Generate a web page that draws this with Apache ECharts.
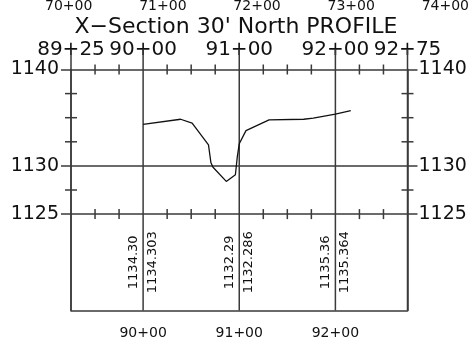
<!DOCTYPE html>
<html>
<head>
<meta charset="utf-8">
<script src="https://cdn.jsdelivr.net/npm/echarts@6/dist/echarts.min.js"></script>
<style>html,body{margin:0;padding:0;background:#fff}#c{width:472px;height:342px}</style>
</head>
<body>
<div id="c"></div>
<script>
// ---- data ----
const profileStations = [9000, 9039, 9051, 9068, 9070.5, 9072.5, 9086.5, 9096, 9098, 9100, 9107, 9131, 9167, 9177, 9200, 9216];
const profileElev     = [1134.30, 1134.84, 1134.43, 1132.18, 1130.35, 1129.88, 1128.39, 1129.08, 1130.97, 1132.29, 1133.66, 1134.77, 1134.84, 1134.95, 1135.36, 1135.73];
const labelStations   = [9000, 9100, 9200];
const existingElev    = [1134.30, 1132.29, 1135.36];
const proposedElev    = [1134.303, 1132.286, 1135.364];
const topStations     = [8925, 9000, 9100, 9200, 9275];
const bottomStations  = [9000, 9100, 9200];
const otherStations   = [7000, 7100, 7200, 7300, 7400];
const elevLabels      = [1125, 1130, 1140];
const gridElevs       = [1125, 1130];
const vLineStations   = [8925, 9000, 9100, 9200, 9275];
const minorStations   = [8950, 8975, 9025, 9050, 9075, 9125, 9150, 9175, 9225, 9250];
const minorStationRows = [1140, 1125];
const minorElevs      = [1127.5, 1132.5, 1135, 1137.5];
const minorElevCols   = [8925, 9275];
const titleText = "X\u2212Section 30' North PROFILE";

const XMIN = 8925, XMAX = 9275, YMIN = 1115, YMAX = 1140;
const FONT = "'DejaVu Sans', sans-serif";
const LC = '#3a3a3a';
const TC = '#111';
function sta(v){ v = Math.round(v); const a = Math.floor(v/100), b = v%100; return a + '+' + (b<10?'0':'') + b; }
function plain(v){ return String(v); }

const xTickData = [];
minorStationRows.forEach(r => minorStations.forEach(s => xTickData.push([s, r])));
const yTickData = [];
minorElevCols.forEach(c => minorElevs.forEach(e => yTickData.push([c, e])));

const chart = echarts.init(document.getElementById('c'), null, {renderer:'canvas'});
chart.setOption({
  animation: false,
  backgroundColor: '#fff',
  title: { text: titleText, left: 'center', top: 11,
    textStyle: { fontFamily: FONT, fontSize: 22, fontWeight: 'normal', color: TC } },
  grid: [
    { left: 71, right: 64.5, top: 69.5, bottom: 31.5 },
    { left: 0, right: 0, top: 12, height: 1 }
  ],
  xAxis: [
    { type: 'value', gridIndex: 0, position: 'bottom', min: XMIN, max: XMAX,
      axisLine: { show: true, lineStyle: { color: LC, width: 1.5 } },
      axisTick: { show: false }, splitLine: { show: false },
      axisLabel: { customValues: bottomStations, formatter: sta, margin: 16,
        fontFamily: FONT, fontSize: 14, color: TC } },
    { type: 'value', gridIndex: 0, position: 'top', min: XMIN, max: XMAX,
      axisLine: { show: true, lineStyle: { color: LC, width: 1.5 } },
      axisTick: { show: false }, splitLine: { show: false },
      axisLabel: { customValues: topStations, formatter: sta, margin: 10,
        fontFamily: FONT, fontSize: 20, color: TC, showMinLabel: true, showMaxLabel: true } },
    { type: 'value', gridIndex: 1, position: 'top', min: 6927, max: 7419,
      axisLine: { show: false }, axisTick: { show: false }, splitLine: { show: false },
      axisLabel: { customValues: otherStations, formatter: sta, margin: 0,
        fontFamily: FONT, fontSize: 14, color: TC } }
  ],
  yAxis: [
    { type: 'value', gridIndex: 0, position: 'left', min: YMIN, max: YMAX,
      axisLine: { show: true, lineStyle: { color: LC, width: 1.5 } },
      axisTick: { show: true, customValues: elevLabels, length: 10, lineStyle: { color: LC, width: 1.5 } },
      splitLine: { show: false },
      axisLabel: { customValues: elevLabels, formatter: plain, margin: 12, fontFamily: FONT, fontSize: 19, color: TC } },
    { type: 'value', gridIndex: 0, position: 'right', min: YMIN, max: YMAX,
      axisLine: { show: true, lineStyle: { color: LC, width: 1.5 } },
      axisTick: { show: true, customValues: elevLabels, length: 10, lineStyle: { color: LC, width: 1.5 } },
      splitLine: { show: false },
      axisLabel: { customValues: elevLabels, formatter: plain, margin: 11, fontFamily: FONT, fontSize: 19, color: TC } },
    { type: 'value', gridIndex: 1, show: false, min: 0, max: 1 }
  ],
  series: [
    { type: 'custom', name: 'vlines', xAxisIndex: 0, yAxisIndex: 0, clip: false, silent: true, z: 1,
      data: vLineStations.map(s => [s, YMIN]),
      renderItem: (p, api) => {
        const b = api.coord([api.value(0), YMIN]);
        const t = api.coord([api.value(0), 1142.1]);
        return { type: 'line', shape: { x1: b[0], y1: b[1], x2: t[0], y2: t[1] },
          style: { stroke: LC, lineWidth: 1.5 } };
      } },
    { type: 'custom', name: 'hlines', xAxisIndex: 0, yAxisIndex: 0, clip: false, silent: true,
      data: gridElevs.map(e => [XMIN, e]),
      renderItem: (p, api) => {
        const a = api.coord([XMIN, api.value(1)]);
        const b = api.coord([XMAX, api.value(1)]);
        return { type: 'line', shape: { x1: a[0], y1: a[1], x2: b[0], y2: b[1] },
          style: { stroke: LC, lineWidth: 1.5 } };
      } },
    { type: 'custom', name: 'xticks', xAxisIndex: 0, yAxisIndex: 0, clip: false, silent: true,
      data: xTickData,
      renderItem: (p, api) => {
        const c = api.coord([api.value(0), api.value(1)]);
        return { type: 'line', shape: { x1: c[0], y1: c[1]-5, x2: c[0], y2: c[1]+5 },
          style: { stroke: LC, lineWidth: 1.5 } };
      } },
    { type: 'custom', name: 'yticks', xAxisIndex: 0, yAxisIndex: 0, clip: false, silent: true,
      data: yTickData,
      renderItem: (p, api) => {
        const c = api.coord([api.value(0), api.value(1)]);
        return { type: 'line', shape: { x1: c[0]-6, y1: c[1], x2: c[0]+6, y2: c[1] },
          style: { stroke: LC, lineWidth: 1.5 } };
      } },
    { type: 'line', name: 'profile', xAxisIndex: 0, yAxisIndex: 0, symbol: 'none', silent: true,
      data: profileStations.map((s, i) => [s, profileElev[i]]),
      lineStyle: { color: '#111', width: 1.3 } },
    { type: 'custom', name: 'elevLabels', xAxisIndex: 0, yAxisIndex: 0, clip: false, silent: true,
      data: labelStations.map((s, i) => [s, 1120, existingElev[i], proposedElev[i]]),
      renderItem: (p, api) => {
        const c = api.coord([api.value(0), api.value(1)]);
        const f = '13px ' + FONT;
        return { type: 'group', children: [
          { type: 'text', x: c[0]-9.5, y: c[1], rotation: Math.PI/2,
            style: { text: api.value(2).toFixed(2), font: f, fill: TC, align: 'center', verticalAlign: 'middle' } },
          { type: 'text', x: c[0]+9.5, y: c[1], rotation: Math.PI/2,
            style: { text: api.value(3).toFixed(3), font: f, fill: TC, align: 'center', verticalAlign: 'middle' } }
        ] };
      } }
  ]
});
</script>
</body>
</html>
